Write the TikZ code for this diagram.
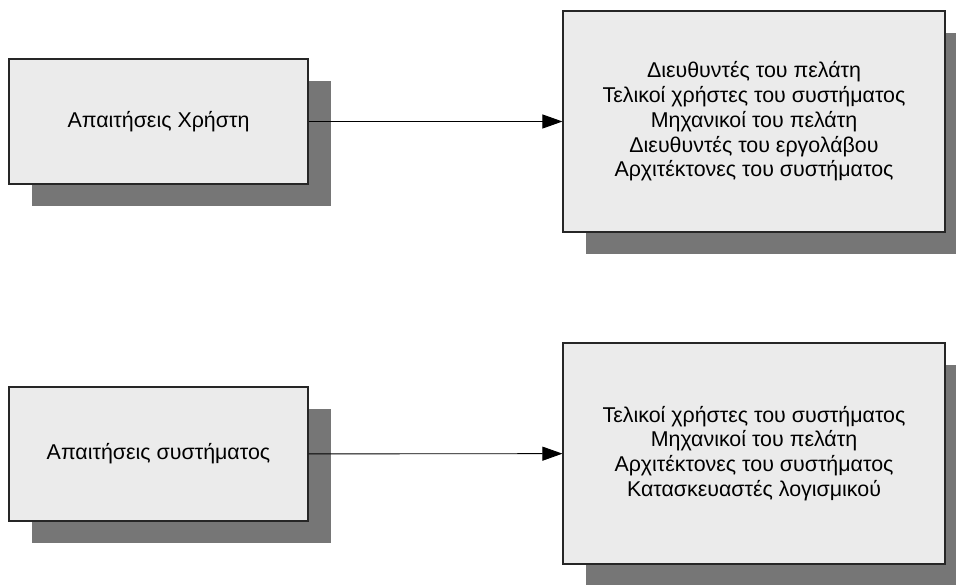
\documentclass[tikz,border=0pt]{standalone}
\usepackage{fontspec}
\setmainfont{Liberation Sans}
\usetikzlibrary{arrows.meta,shadows}
\definecolor{boxfill}{HTML}{EBEBEB}
\definecolor{shadowgray}{HTML}{767676}
\definecolor{edgegray}{HTML}{262626}
\tikzset{
  rolebox/.style={draw=edgegray, line width=1.1pt, fill=boxfill, inner sep=0pt,
    align=center, font=\fontsize{21.4}{24.7}\selectfont,
    general shadow={fill=shadowgray, draw=none, shadow xshift=23pt, shadow yshift=-22pt}},
  flow/.style={draw=black, line width=0.9pt, -{Triangle[length=20pt,width=14pt]}}
}
\begin{document}
\begin{tikzpicture}[x=1pt,y=-1pt]
  \useasboundingbox (0,0) rectangle (956,585);
  \clip (0,0) rectangle (956,585);

  % top row: user requirements and their readers
  \node[rolebox, minimum width=299pt, minimum height=125pt] (ureq) at (158.5,121.5)
    {Απαιτήσεις Χρήστη};
  \node[rolebox, minimum width=382pt, minimum height=221pt] (ureaders) at (754,121.5)
    {Διευθυντές του πελάτη\\Τελικοί χρήστες του συστήματος\\Μηχανικοί του πελάτη\\Διευθυντές του εργολάβου\\Αρχιτέκτονες του συστήματος};
  \draw[flow] (ureq) -- (ureaders);

  % bottom row: system requirements and their readers
  \node[rolebox, minimum width=299pt, minimum height=134pt] (sreq) at (158.5,454)
    {Απαιτήσεις συστήματος};
  \node[rolebox, minimum width=382pt, minimum height=221pt] (sreaders) at (754,453.5)
    {Τελικοί χρήστες του συστήματος\\Μηχανικοί του πελάτη\\Αρχιτέκτονες του συστήματος\\Κατασκευαστές λογισμικού};
  \draw[flow] (sreq) -- (sreaders);
\end{tikzpicture}
\end{document}
